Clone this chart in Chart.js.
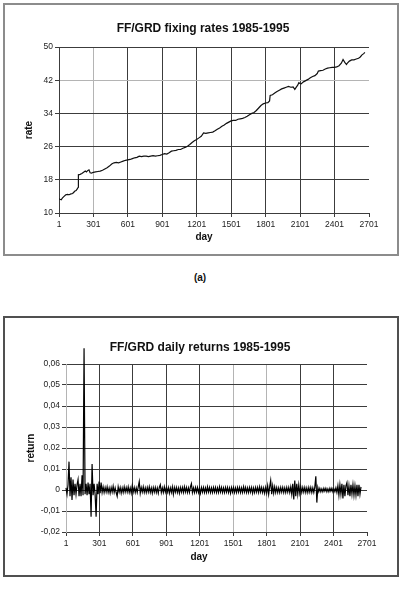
<!DOCTYPE html>
<html><head><meta charset="utf-8">
<script src="https://cdn.jsdelivr.net/npm/chart.js@4/dist/chart.umd.min.js"></script>
<style>
html,body{margin:0;padding:0;background:#fff;width:404px;height:589px;overflow:hidden;font-family:"Liberation Sans",Arial,sans-serif}
.box{position:absolute;box-sizing:border-box}
#box1{left:3px;top:3px;width:396px;height:253px;border:2px solid #8c8c8c}
#box2{left:3px;top:316px;width:396px;height:261px;border:2px solid #505050}
canvas{position:absolute;left:0}
#c1{top:0}
#c2{top:300px}
.t{position:absolute;width:404px;text-align:center;font-weight:bold;color:#111;white-space:nowrap}
.ct{font-size:12px;line-height:14px}
.at{font-size:10px;line-height:12px}
#t1{left:1px;top:21px}
#t2{left:-2px;top:340px}
#d1{left:2px;top:231px}
#d2{left:-3px;top:551px}
#lab{left:-2px;top:272px}
</style></head>
<body>
<div class="box" id="box1"></div>
<div class="box" id="box2"></div>
<canvas id="c1" width="404" height="260"></canvas>
<canvas id="c2" width="404" height="289"></canvas>
<div class="t ct" id="t1">FF/GRD fixing rates 1985-1995</div>
<div class="t at" id="d1">day</div>
<div class="t at" id="lab">(a)</div>
<div class="t ct" id="t2">FF/GRD daily returns 1985-1995</div>
<div class="t at" id="d2">day</div>
<script>
// ---- data ----
const dayTicks = [1, 301, 601, 901, 1201, 1501, 1801, 2101, 2401, 2701];
const rateTicks = [10, 18, 26, 34, 42, 50];
const returnTicks = [-0.02, -0.01, 0, 0.01, 0.02, 0.03, 0.04, 0.05, 0.06];
const returnTickLabels = ['-0,02', '-0,01', '0', '0,01', '0,02', '0,03', '0,04', '0,05', '0,06'];

const rateDays = [1,10,20,30,45,60,75,90,105,120,130,140,150,160,168,170,185,200,215,230,240,250,262,272,285,300,
  320,340,360,380,400,420,440,460,480,500,520,540,560,580,600,620,640,660,680,700,720,740,760,780,800,820,840,860,880,
  900,920,940,960,980,1000,1020,1040,1060,1080,1100,1120,1140,1160,1180,1200,1220,1240,1260,1280,1300,1320,1340,1360,
  1380,1400,1420,1440,1460,1480,1500,1520,1540,1560,1580,1600,1620,1640,1660,1680,1700,1720,1740,1760,1780,1800,1820,
  1835,1840,1860,1880,1900,1920,1940,1960,1980,2000,2020,2040,2055,2065,2080,2090,2100,2110,2130,2150,2170,2190,2210,
  2230,2250,2260,2280,2300,2320,2340,2360,2380,2400,2420,2440,2460,2475,2490,2505,2515,2530,2550,2570,2590,2610,2625,
  2640,2655,2665];
const rateValues = [13.4,13.3,13.2,13.6,14.0,14.4,14.5,14.4,14.6,14.7,15.0,15.3,15.4,15.8,16.2,19.2,19.3,19.5,19.8,20.1,19.9,20.2,20.4,19.7,19.6,19.8,
  19.9,20.0,20.1,20.3,20.6,20.9,21.3,21.8,22.1,22.2,22.1,22.3,22.5,22.7,22.8,22.9,23.1,23.3,23.4,23.7,23.6,23.7,23.7,23.6,23.7,23.8,23.7,23.8,23.9,
  24.1,24.3,24.2,24.5,24.9,25.0,25.1,25.3,25.3,25.6,25.8,26.1,26.5,27.0,27.4,27.7,28.1,28.5,29.3,29.2,29.3,29.4,29.5,29.8,
  30.2,30.5,30.9,31.2,31.6,31.9,32.2,32.3,32.3,32.6,32.7,32.8,33.0,33.3,33.7,34.0,34.2,34.7,35.3,35.9,36.3,36.5,36.6,
  37.0,38.3,38.5,38.9,39.3,39.6,39.9,40.1,40.3,40.5,40.3,40.4,39.8,40.2,40.8,41.4,41.2,41.1,41.6,41.9,42.2,42.6,42.9,
  43.1,43.6,44.2,44.3,44.4,44.7,44.9,45.0,45.1,45.1,45.2,45.5,46.1,47.0,46.3,45.8,46.2,46.6,46.9,46.9,47.1,47.3,47.6,
  48.1,48.4,48.7];

// daily returns, one reading every 9 days starting at day 1
const returnStartDay = 1;
const returnStepDays = 9;
const returnValues = [
  0.0010,-0.0020,0.0025,0.0135,-0.0030,0.0060,-0.0048,0.0050,-0.0025,0.0030,
  -0.0020,0.0025,0.0050,-0.0030,0.0030,-0.0030,0.0070,-0.0025,0.0675,-0.0020,
  0.0030,-0.0025,0.0035,-0.0020,0.0030,-0.0127,0.0124,-0.0025,0.0030,-0.0020,
  -0.0127,0.0030,-0.0020,0.0040,-0.0015,0.0035,-0.0012,0.0015,-0.0012,0.0012,
  -0.0010,0.0015,-0.0012,0.0010,-0.0015,0.0012,-0.0010,0.0018,-0.0012,0.0010,
  -0.0012,-0.0030,0.0015,-0.0010,0.0012,-0.0015,0.0010,-0.0012,0.0015,-0.0010,
  0.0012,-0.0010,0.0015,-0.0012,0.0010,-0.0015,0.0020,-0.0010,0.0012,-0.0012,
  0.0010,-0.0012,0.0015,0.0040,-0.0015,0.0012,-0.0010,0.0015,-0.0012,0.0010,
  -0.0012,0.0012,-0.0010,0.0015,-0.0012,0.0010,-0.0015,0.0012,-0.0010,0.0012,
  -0.0012,0.0010,-0.0015,0.0012,0.0025,-0.0012,0.0010,-0.0012,0.0015,-0.0010,
  0.0012,-0.0010,0.0012,-0.0015,0.0010,-0.0012,0.0015,-0.0020,0.0012,-0.0010,
  0.0012,-0.0012,0.0010,-0.0015,0.0012,-0.0010,0.0012,-0.0012,0.0015,-0.0010,
  0.0012,-0.0012,0.0010,-0.0012,0.0015,0.0030,-0.0012,0.0010,-0.0012,0.0012,
  -0.0010,0.0012,-0.0012,0.0010,-0.0015,0.0012,-0.0010,0.0012,-0.0012,0.0010,
  -0.0012,0.0015,-0.0010,0.0012,-0.0012,0.0010,-0.0012,0.0012,-0.0010,0.0012,
  -0.0012,0.0010,-0.0012,0.0015,-0.0010,0.0012,-0.0012,0.0010,-0.0012,0.0012,
  -0.0010,0.0012,-0.0012,0.0010,-0.0015,0.0012,-0.0010,0.0012,-0.0012,0.0010,
  -0.0012,0.0012,-0.0010,0.0012,-0.0012,0.0010,-0.0012,0.0015,-0.0010,0.0012,
  -0.0012,0.0010,-0.0012,0.0012,-0.0010,0.0012,-0.0015,0.0010,-0.0012,0.0012,
  -0.0010,0.0012,-0.0012,0.0015,-0.0010,0.0012,-0.0012,0.0010,-0.0015,0.0012,
  -0.0015,0.0020,-0.0020,0.0015,0.0045,-0.0020,0.0020,-0.0015,0.0015,-0.0012,
  0.0012,-0.0012,0.0010,-0.0012,0.0012,-0.0010,0.0012,-0.0012,0.0010,-0.0012,
  0.0012,-0.0010,0.0012,-0.0012,0.0015,-0.0020,0.0030,-0.0045,0.0045,-0.0030,
  0.0030,-0.0020,0.0025,-0.0015,0.0015,-0.0012,0.0012,-0.0010,0.0012,-0.0012,
  0.0010,-0.0012,0.0012,-0.0010,0.0012,-0.0012,0.0010,-0.0012,0.0015,0.0065,
  -0.0060,0.0012,-0.0008,0.0008,-0.0008,0.0006,-0.0008,0.0008,-0.0006,0.0008,
  -0.0008,0.0006,-0.0008,0.0008,-0.0006,0.0008,-0.0008,0.0006,-0.0008,0.0010,
  -0.0012,0.0020,-0.0025,0.0025,-0.0020,0.0030,-0.0040,0.0025,-0.0030,0.0020,
  0.0035,-0.0025,0.0020,-0.0030,0.0025,-0.0020,0.0025,-0.0025,0.0020,-0.0025,
  0.0025,-0.0030,0.0025,-0.0020,0.0015];

// ---- styling ----
const FONT = '"Liberation Sans", Arial, sans-serif';
const DARK = '#3c3c3c';
const LIGHT = '#b4b4b4';
const NONE = 'rgba(0,0,0,0)';
Chart.defaults.font.family = FONT;

function xAxis(lightDays, height) {
  return {
    type: 'linear', min: 1, max: 2701,
    afterBuildTicks: s => { s.ticks = dayTicks.map(v => ({ value: v })); },
    afterFit: s => { s.height = height; },
    grid: {
      color: c => (c.tick && c.tick.value === 2701) ? NONE : (c.tick && lightDays.includes(c.tick.value) ? LIGHT : DARK),
      tickColor: DARK, tickLength: 4, lineWidth: 1, drawTicks: true
    },
    border: { color: DARK, width: 1 },
    ticks: { font: { size: 8.5 }, color: '#222', padding: 3, maxRotation: 0, autoSkip: false, callback: v => String(v) },
    title: { display: false }
  };
}
function yAxis(min, max, ticks, labels, lightVals, width, titleText, titlePad, borderColor) {
  return {
    type: 'linear', min: min, max: max,
    afterBuildTicks: s => { s.ticks = ticks.map(v => ({ value: v })); },
    afterFit: s => { s.width = width; },
    grid: {
      color: c => (c.tick && lightVals.includes(c.tick.value)) ? LIGHT : DARK,
      tickColor: DARK, tickLength: 4, lineWidth: 1
    },
    border: { color: borderColor, width: 1 },
    ticks: { font: { size: 8.5 }, color: '#222', padding: 2, autoSkip: false, callback: (v, i) => labels[i] },
    title: { display: true, text: titleText, color: '#111', font: { size: 10, weight: 'bold' }, padding: { top: titlePad, bottom: 0 } }
  };
}

new Chart(document.getElementById('c1'), {
  type: 'line',
  data: { datasets: [{
    data: rateDays.map((d, i) => ({ x: d, y: rateValues[i] })),
    borderColor: '#111', borderWidth: 1.2, pointRadius: 0, tension: 0, fill: false
  }] },
  options: {
    responsive: false, animation: false, devicePixelRatio: 1,
    layout: { padding: { left: 0, right: 35, top: 47, bottom: 17 } },
    plugins: { legend: { display: false }, tooltip: { enabled: false }, title: { display: false } },
    scales: {
      x: xAxis([301], 30),
      y: yAxis(10, 50, rateTicks, rateTicks.map(String), [42], 59, 'rate', 23, DARK)
    }
  }
});

new Chart(document.getElementById('c2'), {
  type: 'line',
  data: { datasets: [{
    data: returnValues.map((v, i) => ({ x: returnStartDay + i * returnStepDays, y: v })),
    borderColor: '#000', borderWidth: 1.2, pointRadius: 0, tension: 0, fill: false, clip: false
  }] },
  options: {
    responsive: false, animation: false, devicePixelRatio: 1,
    layout: { padding: { left: 0, right: 37, top: 64, bottom: 26 } },
    plugins: { legend: { display: false }, tooltip: { enabled: false }, title: { display: false } },
    scales: {
      x: xAxis([1, 1501, 1801], 31),
      y: yAxis(-0.02, 0.06, returnTicks, returnTickLabels, [], 66, 'return', 25, LIGHT)
    }
  }
});
</script>
</body></html>
